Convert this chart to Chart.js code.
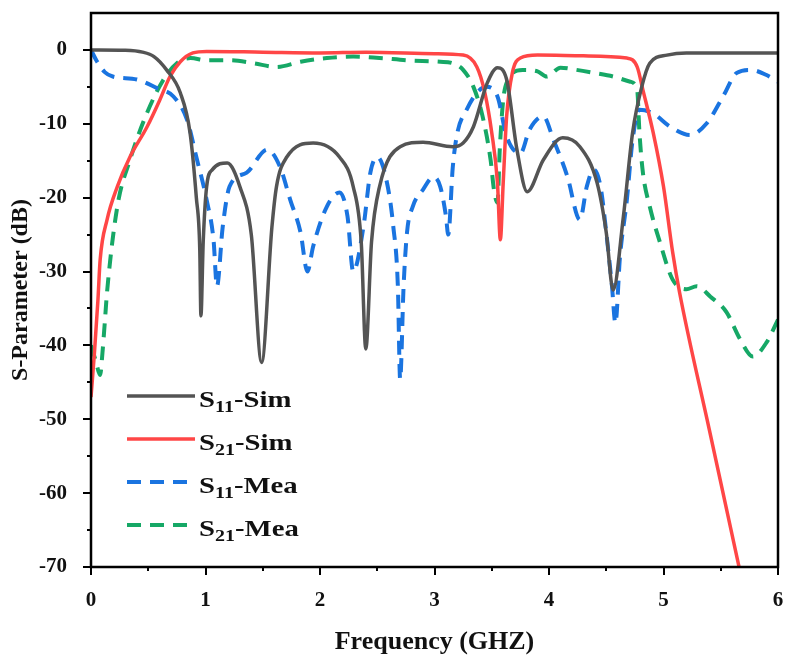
<!DOCTYPE html>
<html>
<head>
<meta charset="utf-8">
<script src="https://cdn.jsdelivr.net/npm/chart.js@4.4.0/dist/chart.umd.min.js"></script>
<style>
  html, body { margin: 0; padding: 0; background: #fff; }
</style>
</head>
<body>
<canvas id="sparamChart" width="792" height="666"></canvas>
<script>
// S11 simulated
const s11SimFreq = [0, 0.3, 0.45, 0.55, 0.66, 0.78, 0.865, 0.92, 0.95, 0.96, 0.98, 1.01, 1.06, 1.19, 1.3, 1.4, 1.49, 1.58, 1.62, 1.71, 1.94, 2.17, 2.29, 2.36, 2.4, 2.45, 2.52, 2.7, 2.9, 3.16, 3.25, 3.34, 3.46, 3.55, 3.63, 3.72, 3.81, 3.95, 4.12, 4.27, 4.42, 4.5, 4.56, 4.65, 4.73, 4.81, 4.88, 5.03, 5.2, 6];
const s11SimDb   = [0, -0.05, -0.3, -0.9, -2.7, -5.8, -11.2, -20, -27, -36, -26, -18.5, -16.2, -15.3, -18.5, -25, -42.3, -24, -18.5, -14.5, -12.6, -14.5, -18.5, -26, -40.5, -26, -18.5, -13.1, -12.5, -13.1, -12.6, -10.4, -4.5, -2.4, -4, -13.5, -19.2, -14.9, -11.9, -13.1, -18, -24.7, -32.5, -22.5, -11.2, -5, -1.8, -0.7, -0.4, -0.4];

// S21 simulated
const s21SimFreq = [0, 0.03, 0.06, 0.08, 0.14, 0.23, 0.34, 0.49, 0.6, 0.69, 0.78, 0.89, 1.01, 1.5, 2.0, 2.4, 3.0, 3.25, 3.37, 3.44, 3.5, 3.55, 3.575, 3.6, 3.63, 3.68, 3.75, 3.9, 4.3, 4.68, 4.77, 4.82, 4.91, 5.0, 5.08, 5.14, 5.4, 5.66];
const s21SimDb   = [-47, -41, -34, -28.4, -23, -18.5, -14.5, -10.4, -6.8, -3.6, -1.6, -0.4, -0.2, -0.3, -0.4, -0.3, -0.5, -0.7, -2.3, -5.8, -11.2, -18, -25.7, -18, -9, -3.1, -1.1, -0.7, -0.8, -1.1, -2.3, -5.4, -11.2, -18.5, -27.4, -32.8, -51.4, -70];

// S11 measured
const s11MeaFreq = [0, 0.05, 0.12, 0.19, 0.4, 0.58, 0.72, 0.84, 0.92, 1.01, 1.07, 1.1, 1.15, 1.21, 1.36, 1.54, 1.65, 1.74, 1.83, 1.89, 1.94, 2.06, 2.17, 2.24, 2.29, 2.38, 2.44, 2.5, 2.58, 2.64, 2.68, 2.7, 2.73, 2.76, 2.81, 2.9, 2.99, 3.05, 3.1, 3.12, 3.16, 3.2, 3.28, 3.37, 3.45, 3.55, 3.63, 3.75, 3.83, 3.95, 4.04, 4.16, 4.27, 4.33, 4.39, 4.45, 4.5, 4.55, 4.58, 4.62, 4.68, 4.73, 4.79, 4.91, 5.06, 5.23, 5.38, 5.52, 5.64, 5.76, 5.9, 6];
const s11MeaDb   = [0, -1.5, -3, -3.6, -4, -5.2, -6.3, -9.5, -14.5, -20.3, -25.7, -32, -24, -18.5, -16.6, -13.5, -15.8, -20.3, -24.7, -30, -26.6, -21.2, -19.3, -22.5, -30, -23.9, -16.6, -14.5, -17.6, -23.9, -32, -44.6, -32, -24.7, -21.2, -18.9, -17.2, -18.5, -22.5, -25, -15.8, -11.2, -8.1, -5.8, -5, -6.3, -11.7, -14, -10.8, -9, -12.2, -17.1, -23, -18.5, -16.2, -18.5, -24.7, -32, -37, -28, -20.3, -12.2, -8.1, -8.6, -10.4, -11.5, -9.9, -6.3, -3.1, -2.7, -3.4, -4.3];

// S21 measured
const s21MeaFreq = [0, 0.04, 0.08, 0.1, 0.12, 0.14, 0.23, 0.34, 0.49, 0.63, 0.75, 0.87, 1.01, 1.21, 1.42, 1.62, 1.83, 2.06, 2.29, 2.52, 2.76, 3.05, 3.16, 3.25, 3.34, 3.42, 3.49, 3.52, 3.55, 3.57, 3.6, 3.64, 3.77, 3.9, 3.98, 4.1, 4.24, 4.39, 4.56, 4.71, 4.77, 4.79, 4.82, 4.88, 4.97, 5.08, 5.2, 5.29, 5.41, 5.55, 5.67, 5.78, 5.9, 6];
const s21MeaDb   = [-40, -42, -44, -41, -37, -32.8, -21.2, -14.9, -8.5, -4.1, -1.8, -1.1, -1.4, -1.4, -1.8, -2.3, -1.6, -1.1, -0.9, -1.1, -1.4, -1.6, -1.8, -2.7, -5, -9, -14.9, -19, -20.7, -13.5, -6.8, -4.1, -2.7, -2.9, -3.6, -2.4, -2.7, -3.1, -3.6, -4.3, -5.4, -11.2, -16.6, -21.2, -26.1, -31.1, -32.4, -32, -33.4, -35.5, -39.2, -41.5, -39.6, -36.5];

const xTicks = [0, 1, 2, 3, 4, 5, 6];
const yTicks = [0, -10, -20, -30, -40, -50, -60, -70];

const colors = {
    s11Sim: '#545454',
    s21Sim: '#ff4646',
    s11Mea: '#1a74e0',
    s21Mea: '#16a866'
};

const serif = '"Liberation Serif", "Times New Roman", serif';

function toPoints(freq, db) {
    return freq.map((f, i) => ({ x: f, y: db[i] }));
}

const seriesInfo = [
    { sub: '11', tail: '-Sim', color: colors.s11Sim, dash: [] },
    { sub: '21', tail: '-Sim', color: colors.s21Sim, dash: [] },
    { sub: '11', tail: '-Mea', color: colors.s11Mea, dash: [14, 9] },
    { sub: '21', tail: '-Mea', color: colors.s21Mea, dash: [14, 9] }
];

// frame, minor ticks and the legend with subscripts
const framePlugin = {
    id: 'framePlugin',
    afterDraw(chart) {
        const { ctx, chartArea: a, scales } = chart;
        const xs = scales.x, ys = scales.y;
        ctx.save();
        ctx.strokeStyle = '#000';
        ctx.lineWidth = 2.5;
        ctx.strokeRect(a.left, a.top, a.right - a.left, a.bottom - a.top);

        ctx.lineWidth = 2;
        ctx.beginPath();
        for (let v = -70; v <= 0; v += 5) {
            const p = Math.round(ys.getPixelForValue(v));
            const len = v % 10 === 0 ? 8 : 4;
            ctx.moveTo(a.left - len, p);
            ctx.lineTo(a.left, p);
        }
        for (let v = 0; v <= 6; v += 0.5) {
            const p = Math.round(xs.getPixelForValue(v));
            const len = Number.isInteger(v) ? 8 : 4;
            ctx.moveTo(p, a.bottom);
            ctx.lineTo(p, a.bottom + len);
        }
        ctx.stroke();

        // legend (text a bit wider, like the source figure)
        const lx0 = 127, lx1 = 195, tx = 199, sx = 1.25;
        const rows = [396, 439, 482, 525];
        seriesInfo.forEach((s, i) => {
            const y = rows[i];
            ctx.beginPath();
            ctx.strokeStyle = s.color;
            ctx.lineWidth = s.dash.length ? 4 : 3.5;
            ctx.setLineDash(s.dash);
            ctx.moveTo(lx0, y);
            ctx.lineTo(lx1, y);
            ctx.stroke();
            ctx.setLineDash([]);

            ctx.save();
            ctx.translate(tx, 0);
            ctx.scale(sx, 1);
            ctx.fillStyle = '#111';
            ctx.textBaseline = 'alphabetic';
            ctx.textAlign = 'left';
            ctx.font = 'bold 23px ' + serif;
            ctx.fillText('S', 0, y + 11);
            let x = ctx.measureText('S').width;
            ctx.font = 'bold 16px ' + serif;
            ctx.fillText(s.sub, x, y + 16);
            x += ctx.measureText(s.sub).width;
            ctx.font = 'bold 23px ' + serif;
            ctx.fillText(s.tail, x, y + 11);
            ctx.restore();
        });
        ctx.restore();
    }
};

function makeDataset(label, freq, db, color, dash) {
    return {
        label: label,
        data: toPoints(freq, db),
        borderColor: color,
        backgroundColor: color,
        borderWidth: dash.length ? 4 : 3.5,
        borderDash: dash,
        pointRadius: 0,
        showLine: true,
        fill: false,
        cubicInterpolationMode: 'monotone'
    };
}

const ctx = document.getElementById('sparamChart').getContext('2d');
new Chart(ctx, {
    type: 'scatter',
    data: {
        datasets: [
            makeDataset('S11-Sim', s11SimFreq, s11SimDb, colors.s11Sim, []),
            makeDataset('S21-Sim', s21SimFreq, s21SimDb, colors.s21Sim, []),
            makeDataset('S11-Mea', s11MeaFreq, s11MeaDb, colors.s11Mea, [14, 9]),
            makeDataset('S21-Mea', s21MeaFreq, s21MeaDb, colors.s21Mea, [14, 9])
        ]
    },
    options: {
        responsive: false,
        animation: false,
        devicePixelRatio: 1,
        layout: { padding: { top: 13, right: 14, left: 0, bottom: 0 } },
        plugins: {
            legend: { display: false },
            tooltip: { enabled: false }
        },
        scales: {
            x: {
                type: 'linear',
                min: 0,
                max: 6,
                afterBuildTicks: scale => { scale.ticks = xTicks.map(v => ({ value: v })); },
                afterFit: scale => {
                    scale.height = 99;
                    scale.paddingLeft = 0;
                    scale.paddingRight = 0;
                },
                grid: { display: false },
                border: { display: false },
                ticks: {
                    padding: 13,
                    color: '#111',
                    font: { family: serif, size: 21, weight: 'bold' }
                },
                title: {
                    display: true,
                    text: 'Frequency (GHZ)',
                    color: '#111',
                    font: { family: serif, size: 26, weight: 'bold' },
                    padding: { top: 10, bottom: 8 }
                }
            },
            y: {
                type: 'linear',
                min: -70,
                max: 5,
                afterBuildTicks: scale => { scale.ticks = yTicks.map(v => ({ value: v })); },
                afterFit: scale => {
                    scale.width = 91;
                    scale.paddingTop = 0;
                    scale.paddingBottom = 0;
                },
                grid: { display: false },
                border: { display: false },
                ticks: {
                    padding: 16,
                    color: '#111',
                    font: { family: serif, size: 21, weight: 'bold' }
                },
                title: {
                    display: true,
                    text: 'S-Parameter (dB)',
                    color: '#111',
                    font: { family: serif, size: 24, weight: 'bold' },
                    padding: { top: 6, bottom: 0 }
                }
            }
        }
    },
    plugins: [framePlugin]
});
</script>
</body>
</html>
